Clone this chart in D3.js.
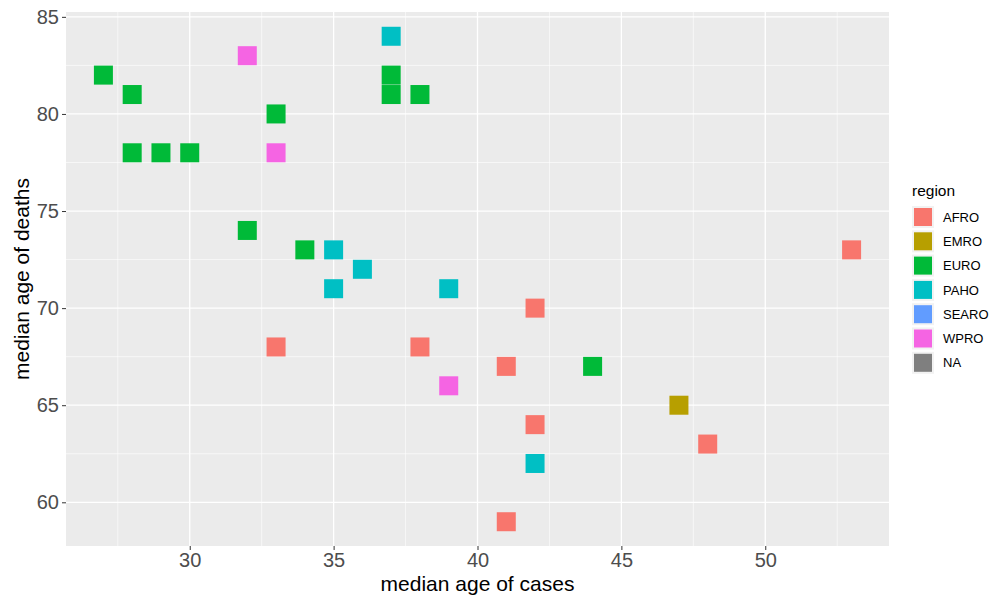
<!DOCTYPE html>
<meta charset="utf-8">
<head>
  <title>Median age of cases vs deaths</title>
  <script src="https://cdn.jsdelivr.net/npm/d3@7/dist/d3.min.js"></script>
  <style>
    body { margin: 0; background: #fff; }
    text { font-family: "Liberation Sans", Arial, sans-serif; }
    .tick text { fill: #4d4d4d; font-size: 20px; }
  </style>
</head>
<body>
<div id="chart"></div>
<script>
  // legend categories and their ggplot hue colours
  var regions = ["AFRO", "EMRO", "EURO", "PAHO", "SEARO", "WPRO", "NA"];
  var regionColors = ["#F8766D", "#B79F00", "#00BA38", "#00BFC4", "#619CFF", "#F564E3", "#7F7F7F"];

  // one entry per country
  var caseAge  = [53, 42, 33, 38, 41, 42, 48, 41,
                  47,
                  27, 28, 28, 29, 30, 33, 32, 34, 37, 37, 38, 44,
                  37, 35, 36, 35, 39, 42,
                  32, 33, 39];
  var deathAge = [73, 70, 68, 68, 67, 64, 63, 59,
                  65,
                  82, 81, 78, 78, 78, 80, 74, 73, 82, 81, 81, 67,
                  84, 73, 72, 71, 71, 62,
                  83, 78, 66];
  var pointRegion = ["AFRO","AFRO","AFRO","AFRO","AFRO","AFRO","AFRO","AFRO",
                     "EMRO",
                     "EURO","EURO","EURO","EURO","EURO","EURO","EURO","EURO","EURO","EURO","EURO","EURO",
                     "PAHO","PAHO","PAHO","PAHO","PAHO","PAHO",
                     "WPRO","WPRO","WPRO"];

  var xTicks = [30, 35, 40, 45, 50];
  var yTicks = [60, 65, 70, 75, 80, 85];

  var w = 992, h = 603;
  var panel = {left: 66, right: 889, top: 12, bottom: 546};

  var svg = d3.select("#chart").append("svg")
    .attr("width", w).attr("height", h);

  // ggplot-style 5% expansion
  var xs = d3.scaleLinear()
    .domain([27 - 26 * 0.05, 53 + 26 * 0.05])
    .range([panel.left, panel.right]);
  var ys = d3.scaleLinear()
    .domain([59 - 25 * 0.05, 84 + 25 * 0.05])
    .range([panel.bottom, panel.top]);
  var color = d3.scaleOrdinal().domain(regions).range(regionColors);

  // panel background
  svg.append("rect")
    .attr("x", panel.left).attr("y", panel.top)
    .attr("width", panel.right - panel.left)
    .attr("height", panel.bottom - panel.top)
    .attr("fill", "#ebebeb");

  // minor grid
  var xMinor = xTicks.map(function(d){ return d - 2.5; }).concat([52.5]);
  var yMinor = yTicks.map(function(d){ return d - 2.5; }).filter(function(d){ return d > ys.domain()[0]; });
  svg.selectAll(".xminor").data(xMinor).enter().append("line")
    .attr("x1", xs).attr("x2", xs)
    .attr("y1", panel.top).attr("y2", panel.bottom)
    .attr("stroke", "#fff").attr("stroke-width", 0.6);
  svg.selectAll(".yminor").data(yMinor).enter().append("line")
    .attr("y1", ys).attr("y2", ys)
    .attr("x1", panel.left).attr("x2", panel.right)
    .attr("stroke", "#fff").attr("stroke-width", 0.6);

  // major grid
  svg.selectAll(".xmajor").data(xTicks).enter().append("line")
    .attr("x1", xs).attr("x2", xs)
    .attr("y1", panel.top).attr("y2", panel.bottom)
    .attr("stroke", "#fff").attr("stroke-width", 1.3);
  svg.selectAll(".ymajor").data(yTicks).enter().append("line")
    .attr("y1", ys).attr("y2", ys)
    .attr("x1", panel.left).attr("x2", panel.right)
    .attr("stroke", "#fff").attr("stroke-width", 1.3);

  // axes
  var xAxis = svg.append("g")
    .attr("transform", "translate(0," + panel.bottom + ")")
    .call(d3.axisBottom(xs).tickValues(xTicks).tickSize(4).tickPadding(3));
  var yAxis = svg.append("g")
    .attr("transform", "translate(" + panel.left + ",0)")
    .call(d3.axisLeft(ys).tickValues(yTicks).tickSize(4).tickPadding(3));
  [xAxis, yAxis].forEach(function(a){
    a.select(".domain").remove();
    a.selectAll(".tick line").attr("stroke", "#333").attr("stroke-width", 1);
    a.attr("font-family", null).attr("font-size", null);
  });

  // points
  var pts = caseAge.map(function(c, i){ return {x: c, y: deathAge[i], r: pointRegion[i]}; });
  var s = 19;
  svg.selectAll(".pt").data(pts).enter().append("rect")
    .attr("x", function(d){ return xs(d.x) - s / 2; })
    .attr("y", function(d){ return ys(d.y) - s / 2; })
    .attr("width", s).attr("height", s)
    .attr("fill", function(d){ return color(d.r); });

  // axis titles
  svg.append("text")
    .attr("x", (panel.left + panel.right) / 2).attr("y", 591)
    .attr("text-anchor", "middle").attr("font-size", 21).attr("fill", "#000")
    .text("median age of cases");
  svg.append("text")
    .attr("transform", "translate(29," + (panel.top + panel.bottom) / 2 + ") rotate(-90)")
    .attr("text-anchor", "middle").attr("font-size", 21).attr("fill", "#000")
    .text("median age of deaths");

  // legend
  var lg = svg.append("g").attr("transform", "translate(912,0)");
  lg.append("text").attr("x", 0).attr("y", 196)
    .attr("font-size", 15.5).attr("fill", "#000").text("region");
  var keys = lg.selectAll(".key").data(regions).enter().append("g")
    .attr("transform", function(d, i){ return "translate(0," + (206 + i * 24.3) + ")"; });
  keys.append("rect").attr("width", 22).attr("height", 22).attr("fill", "#f2f2f2");
  keys.append("rect").attr("x", 2).attr("y", 2).attr("width", 18).attr("height", 18)
    .attr("fill", function(d){ return color(d); });
  keys.append("text").attr("x", 31).attr("y", 11).attr("dy", "0.36em")
    .attr("font-size", 13).attr("fill", "#000")
    .text(function(d){ return d; });
</script>
</body>
</html>
